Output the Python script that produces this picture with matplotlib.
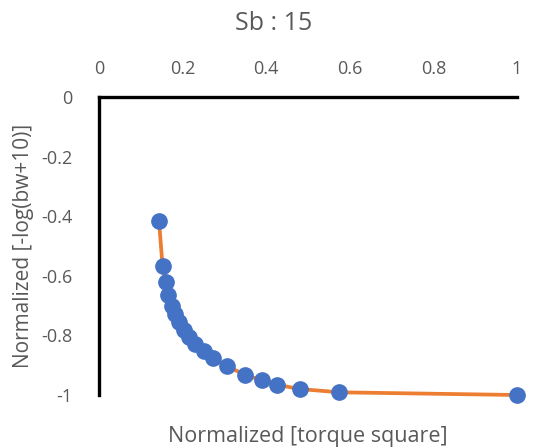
import matplotlib.pyplot as plt

plt.rcParams['font.family'] = ['Open Sans', 'DejaVu Sans']

# normalized torque square vs normalized -log(bw+10)
torque_sq = [0.1435, 0.152, 0.160, 0.166, 0.174, 0.181, 0.192, 0.204, 0.216, 0.230,
             0.250, 0.273, 0.307, 0.349, 0.390, 0.427, 0.481, 0.575, 1.0]
neg_log_bw = [-0.416, -0.567, -0.620, -0.663, -0.700, -0.727, -0.755, -0.782, -0.806, -0.828,
              -0.853, -0.877, -0.904, -0.932, -0.951, -0.966, -0.980, -0.991, -1.0]

xticks = [0, 0.2, 0.4, 0.6, 0.8, 1]
yticks = [0, -0.2, -0.4, -0.6, -0.8, -1]
grey = '#595959'

fig = plt.figure(figsize=(5.48, 4.48), dpi=100)
ax = fig.add_axes([0.1807, 0.1183, 0.7627, 0.6652])

ax.plot(torque_sq, neg_log_bw, color='#ED7D31', lw=2.7, zorder=2, clip_on=False)
ax.plot(torque_sq, neg_log_bw, 'o', color='#4472C4', ms=11, zorder=3, clip_on=False)

ax.set_xlim(0, 1)
ax.set_ylim(-1, 0)
ax.set_xticks(xticks)
ax.set_xticklabels(['0', '0.2', '0.4', '0.6', '0.8', '1'])
ax.set_yticks(yticks)
ax.set_yticklabels(['0', '-0.2', '-0.4', '-0.6', '-0.8', '-1'])
ax.xaxis.tick_top()
ax.xaxis.set_label_position('bottom')
ax.tick_params(length=0, labelsize=13, labelcolor=grey)
ax.tick_params(axis='x', pad=14)
ax.tick_params(axis='y', pad=19)

for s in ['bottom', 'right']:
    ax.spines[s].set_visible(False)
for s in ['top', 'left']:
    ax.spines[s].set_linewidth(2.4)
    ax.spines[s].set_color('black')

ax.set_xlabel('Normalized [torque square]', fontsize=15.5, color=grey, labelpad=22)
ax.set_ylabel('Normalized [-log(bw+10)]', fontsize=15, color=grey, labelpad=5)
fig.text(0.5, 0.948, 'Sb : 15', ha='center', va='center', fontsize=18, color=grey)

fig.savefig('out.png', dpi=100)
